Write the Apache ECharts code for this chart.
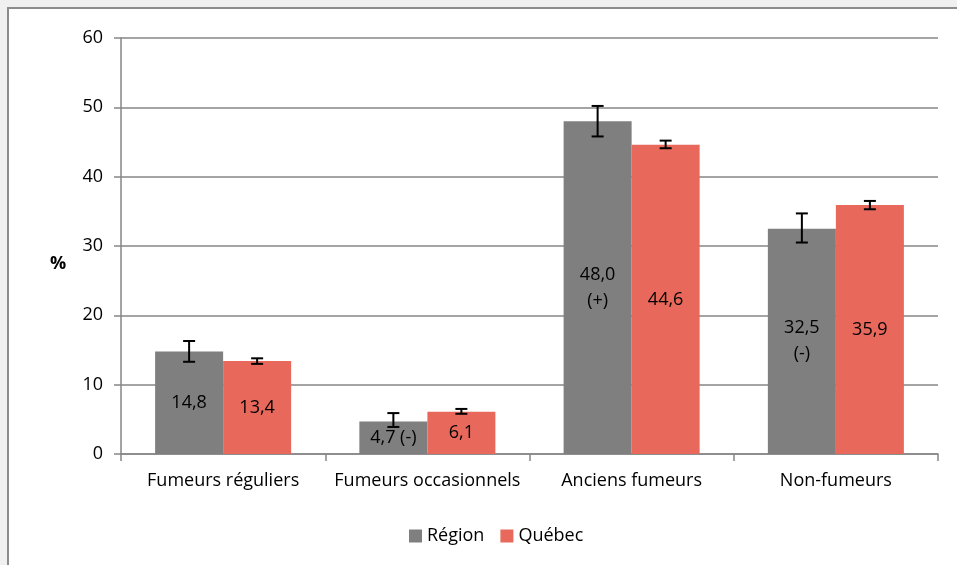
<!DOCTYPE html>
<html>
<head>
<meta charset="utf-8">
<script src="https://cdn.jsdelivr.net/npm/echarts@6/dist/echarts.min.js"></script>
<style>
body { margin: 0; background: #f0f0f0; }
#frame { position: absolute; left: 7px; top: 7px; width: 960px; height: 570px; background: #fff; border-left: 2px solid #8c8c8c; border-top: 2px solid #8c8c8c; }
#main { position: absolute; left: 0; top: 0; width: 957px; height: 565px; }
</style>
</head>
<body>
<div id="frame"></div>
<div id="main"></div>
<script>
// données
var categories = ['Fumeurs réguliers', 'Fumeurs occasionnels', 'Anciens fumeurs', 'Non-fumeurs'];
var region = [14.8, 4.7, 48.0, 32.5];
var quebec = [13.4, 6.1, 44.6, 35.9];
var regionLabels = ['14,8', '4,7 (-)', '48,0\n(+)', '32,5\n(-)'];
var quebecLabels = ['13,4', '6,1', '44,6', '35,9'];
// intervalles de confiance [bas, haut]
var regionErr = [[13.3, 16.3], [3.9, 5.9], [45.8, 50.2], [30.5, 34.7]];
var quebecErr = [[13.0, 13.8], [5.8, 6.5], [44.1, 45.2], [35.3, 36.5]];

var font = 'Open Sans';
var fs = 18;
var catGap = 0.334;

function errData(errs) {
  return errs.map(function (e, i) { return [i, e[0], e[1]]; });
}

function errRender(side) {
  return function (params, api) {
    var band = api.size([1, 0])[0];
    var barW = band * (1 - catGap) / 2;
    var lo = api.coord([api.value(0), api.value(1)]);
    var hi = api.coord([api.value(0), api.value(2)]);
    var x = lo[0] + side * barW / 2;
    var cap = 6;
    var style = { stroke: '#000', lineWidth: 2 };
    return {
      type: 'group',
      children: [
        { type: 'line', shape: { x1: x, y1: hi[1], x2: x, y2: lo[1] }, style: style },
        { type: 'line', shape: { x1: x - cap, y1: hi[1], x2: x + cap, y2: hi[1] }, style: style },
        { type: 'line', shape: { x1: x - cap, y1: lo[1], x2: x + cap, y2: lo[1] }, style: style }
      ]
    };
  };
}

var chart = echarts.init(document.getElementById('main'));
chart.setOption({
  animation: false,
  textStyle: { fontFamily: font },
  grid: { left: 121, top: 38, right: 19, bottom: 111 },
  graphic: [{
    type: 'text', left: 50, top: 255,
    style: { text: '%', font: 'bold ' + fs + 'px "' + font + '"', fill: '#000' }
  }],
  legend: {
    left: 404, top: 522,
    itemWidth: 13, itemHeight: 13, itemGap: 16,
    icon: 'rect',
    textStyle: { fontSize: fs, color: '#000', fontFamily: font },
    data: ['Région', 'Québec']
  },
  xAxis: {
    type: 'category',
    data: categories,
    axisLine: { lineStyle: { color: '#868686', width: 1.5 } },
    axisTick: { show: true, length: 7, lineStyle: { color: '#868686', width: 1.5 } },
    axisLabel: { color: '#000', fontSize: fs, margin: 18, interval: 0 }
  },
  yAxis: {
    type: 'value',
    min: 0, max: 60, interval: 10,
    axisLine: { show: true, lineStyle: { color: '#868686', width: 1.5 } },
    axisTick: { show: true, length: 7, lineStyle: { color: '#868686', width: 1.5 } },
    splitLine: { lineStyle: { color: '#868686', width: 1.5 } },
    axisLabel: { color: '#000', fontSize: fs, margin: 18 }
  },
  series: [
    {
      name: 'Région', type: 'bar', data: region,
      barGap: '0%', barCategoryGap: (catGap * 100) + '%',
      itemStyle: { color: '#7f7f7f' },
      label: {
        show: true, position: 'inside', color: '#000', fontSize: fs, lineHeight: 26,
        formatter: function (p) { return regionLabels[p.dataIndex]; }
      }
    },
    {
      name: 'Québec', type: 'bar', data: quebec,
      itemStyle: { color: '#e8695b' },
      label: {
        show: true, position: 'inside', color: '#000', fontSize: fs,
        formatter: function (p) { return quebecLabels[p.dataIndex]; }
      }
    },
    {
      type: 'custom', name: 'errRegion', data: errData(regionErr),
      renderItem: errRender(-1), encode: { x: 0, y: [1, 2] }, z: 10
    },
    {
      type: 'custom', name: 'errQuebec', data: errData(quebecErr),
      renderItem: errRender(1), encode: { x: 0, y: [1, 2] }, z: 10
    }
  ]
});
</script>
</body>
</html>
